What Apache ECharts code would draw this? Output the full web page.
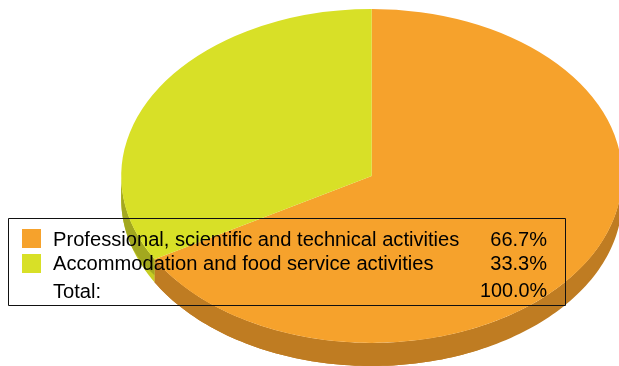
<!DOCTYPE html>
<html><head><meta charset="utf-8">
<style>html,body{margin:0;padding:0;background:#fff}#c{width:619px;height:366px}</style>
<script src="https://cdn.jsdelivr.net/npm/echarts@6/dist/echarts.min.js"></script>
</head><body><div id="c"></div>
<script>
const categories = ['Professional, scientific and technical activities', 'Accommodation and food service activities'];
const shares = [66.7, 33.3];
const totalLabel = 'Total:';
const totalValue = 100.0;
const faceColors = ['#F6A22C', '#D8E027'];
const wallColors = ['#BF7C22', '#A3A81F'];
const wallRimColors = ['#BF7C22', '#C6CD22'];

const CX = 371.7, CY = 176, RX = 250.5, RY = 167, DEPTH = 23;
const chart = echarts.init(document.getElementById('c'), null, {renderer: 'canvas'});
const sum = shares.reduce((a, b) => a + b, 0);
function range(i) {
  let s = 0;
  for (let k = 0; k < i; k++) s += shares[k];
  const a0 = -Math.PI / 2 + s / sum * 2 * Math.PI;
  const a1 = a0 + shares[i] / sum * 2 * Math.PI;
  return [a0, a1];
}
// Band of the side wall between the top-face rim and that rim pushed down by depthAt(t).
function band(s, e, depthAt, fill) {
  const top = [], bottom = [];
  const n = 120;
  for (let j = 0; j <= n; j++) {
    const t = s + (e - s) * j / n;
    const x = CX + RX * Math.cos(t), y = CY + RY * Math.sin(t);
    top.push([x, y]);
    bottom.unshift([x, y + depthAt(t)]);
  }
  return {type: 'polygon', shape: {points: top.concat(bottom)}, style: {fill}};
}
function wallItem(params) {
  const i = params.dataIndex;
  const [a0, a1] = range(i);
  const s = Math.max(a0, 0), e = Math.min(a1, Math.PI);
  if (e <= s) return {type: 'group', children: []};
  const children = [band(s, e, () => DEPTH, wallRimColors[i])];
  // the wall darkens away from its outer rim where it meets the next slice
  children.push(band(s, e, t => {
    const fade = Math.max(0, Math.min(1, (t - s) / (e - s) / 0.45));
    return 16 + (DEPTH - 16) * fade;
  }, wallColors[i]));
  return {type: 'group', children};
}
function faceItem(params) {
  const [a0, a1] = range(params.dataIndex);
  return {
    type: 'sector', x: CX, y: CY, scaleX: 1, scaleY: RY / RX,
    shape: {cx: 0, cy: 0, r0: 0, r: RX, startAngle: a0, endAngle: a1, clockwise: true},
    style: {fill: faceColors[params.dataIndex]}
  };
}
function txt(x, y, text, align, size) {
  return {type: 'text', x, y, z: 10, style: {text, font: size + 'px "Liberation Sans", Arial, sans-serif', fill: '#000', align: align || 'left', verticalAlign: 'middle'}};
}
const rows = [240, 264];
const swatchTops = [229, 254];
const legend = [
  {type: 'rect', z: 9, shape: {x: 8.5, y: 218.5, width: 557, height: 87}, style: {fill: 'none', stroke: '#111', lineWidth: 1}}
];
categories.forEach((c, i) => {
  legend.push({type: 'rect', z: 9, shape: {x: 22, y: swatchTops[i], width: 19, height: 19}, style: {fill: faceColors[i]}});
  legend.push(txt(53, rows[i], c, 'left', 20.15));
  legend.push(txt(547, rows[i], shares[i].toFixed(1) + '%', 'right', 20));
});
legend.push(txt(53, 292, totalLabel, 'left', 20.15));
legend.push(txt(547, 292, totalValue.toFixed(1) + '%', 'right', 19.8));

chart.setOption({
  animation: false,
  backgroundColor: '#fff',
  graphic: {elements: legend},
  series: [
    {type: 'custom', coordinateSystem: 'none', silent: true, data: shares, renderItem: wallItem, z: 1},
    {type: 'custom', coordinateSystem: 'none', silent: true, data: shares, renderItem: faceItem, z: 2}
  ]
});
</script></body></html>
